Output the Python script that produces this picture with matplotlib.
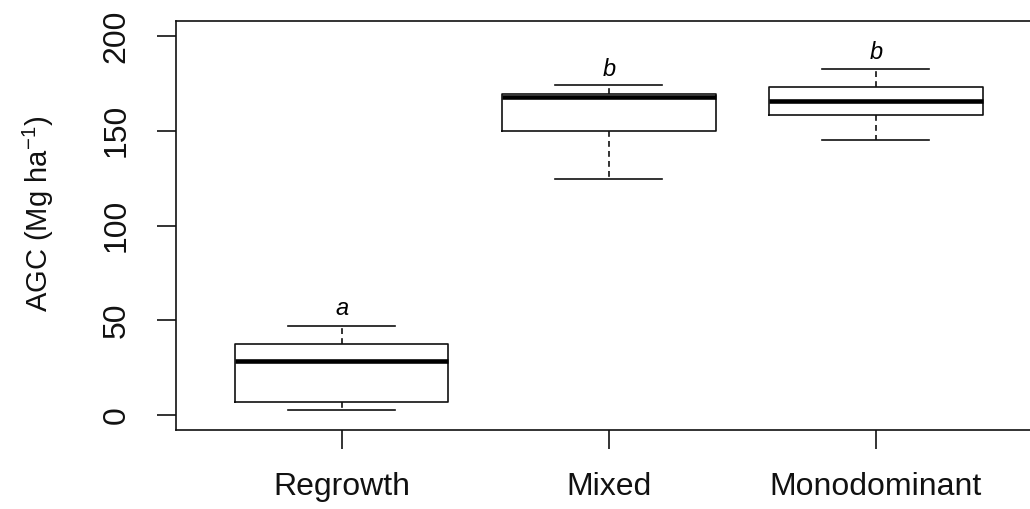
import matplotlib
matplotlib.use("Agg")
import matplotlib.pyplot as plt

plt.rcParams['font.family'] = ['Liberation Sans', 'DejaVu Sans']
plt.rcParams['mathtext.fontset'] = 'custom'
plt.rcParams['mathtext.rm'] = 'Liberation Sans'
plt.rcParams['mathtext.it'] = 'Liberation Sans:italic'

# boxplot summary values (Mg ha-1)
groups = ["Regrowth", "Mixed", "Monodominant"]
whislo = [2.3, 124.4, 145.4]
q1 = [7.0, 150.1, 158.5]
med = [28.2, 168.0, 165.7]
q3 = [37.6, 169.2, 173.2]
whishi = [46.9, 174.3, 182.5]
letters = ["a", "b", "b"]
letter_y = [56.0, 182.5, 191.2]

stats = []
for i in range(len(groups)):
    stats.append(dict(label=groups[i], whislo=whislo[i], q1=q1[i], med=med[i],
                      q3=q3[i], whishi=whishi[i], fliers=[]))

fig = plt.figure(figsize=(10.30, 5.09), dpi=100)
ax = fig.add_axes([176/1030, 79/509, (1041.5-176)/1030, (430-21)/509])

pos = list(range(1, len(groups) + 1))
ax.bxp(stats, positions=pos, widths=0.8, capwidths=0.4, showfliers=False,
       boxprops=dict(color="#111111", lw=1.2),
       medianprops=dict(color="black", lw=3.3, solid_capstyle="butt"),
       whiskerprops=dict(color="#111111", lw=1.2, linestyle=(0, (3.5, 2.5))),
       capprops=dict(color="#111111", lw=1.2))

for x, y, t in zip(pos, letter_y, letters):
    ax.text(x, y, t, ha="center", va="center", fontsize=17, style="italic")

ax.set_xlim(0.38, 3.62)
ax.set_ylim(-8, 208)
ax.set_yticks([0, 50, 100, 150, 200])
ax.set_xticks(pos)
ax.set_xticklabels(groups)

for s in ax.spines.values():
    s.set_linewidth(1.2)
    s.set_color("#111111")
ax.tick_params(axis="both", length=14, width=1.2, labelsize=23, direction="out",
               color="#111111", labelcolor="#111111")
ax.tick_params(axis="x", pad=16)
ax.tick_params(axis="y", pad=18)
for lab in ax.get_yticklabels():
    lab.set_rotation(90)
    lab.set_va("center")

fig.text(38/1030, 1 - 214/509, r"AGC (Mg ha$^{-1}$)", rotation=90,
         ha="center", va="center", fontsize=21, color="#111111")

fig.savefig("out.png", dpi=100)
